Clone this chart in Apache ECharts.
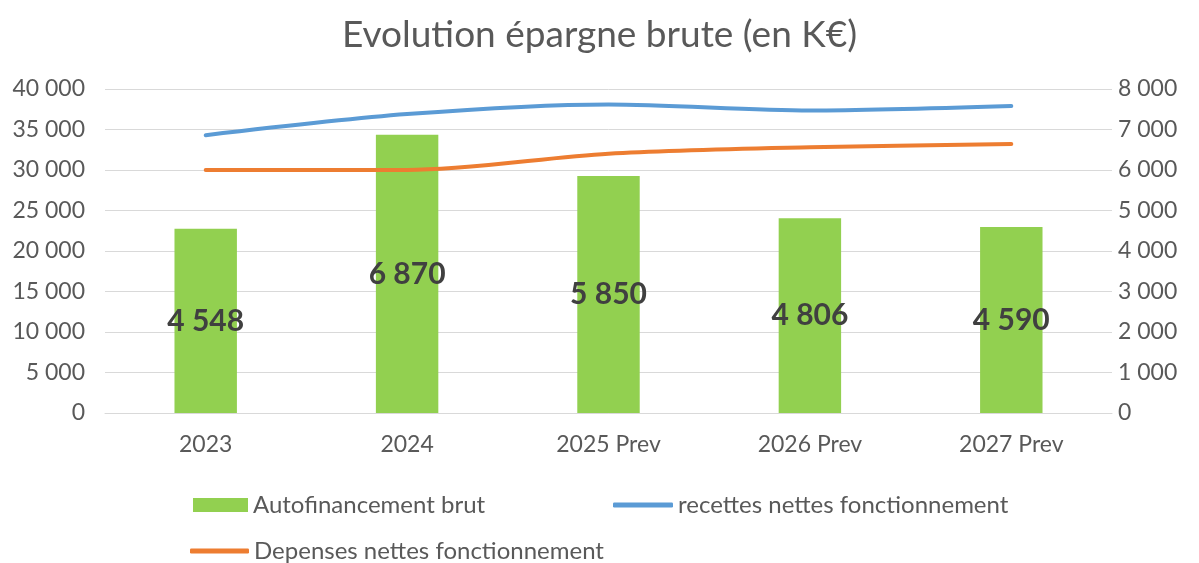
<!DOCTYPE html>
<html>
<head>
<meta charset="utf-8">
<script src="https://cdn.jsdelivr.net/npm/echarts@6/dist/echarts.min.js"></script>
<style>html,body{margin:0;padding:0;background:#fff}#c{width:1199px;height:563px}</style>
</head>
<body>
<div id="c"></div>
<script>
var categories = ['2023', '2024', '2025 Prev', '2026 Prev', '2027 Prev'];
var autofinancement = [4548, 6870, 5850, 4806, 4590];
var recettes = [34300, 36900, 38100, 37350, 37900];
var depenses = [30000, 30000, 32000, 32800, 33200];
var leftTicks = { min: 0, max: 40000, interval: 5000 };
var rightTicks = { min: 0, max: 8000, interval: 1000 };

function fmt(v) { return String(v).replace(/\B(?=(\d{3})+(?!\d))/g, ' '); }

var FONT = 'Lato';
var TXT = '#595959';
var chart = echarts.init(document.getElementById('c'));
chart.setOption({
  animation: false,
  backgroundColor: '#fff',
  textStyle: { fontFamily: FONT },
  title: {
    text: 'Evolution épargne brute (en K€)',
    left: 'center', top: 12,
    textStyle: { fontFamily: FONT, fontSize: 37, fontWeight: 'normal', color: TXT }
  },
  legend: [
    { data: ['Autofinancement brut'], left: 188, top: 488, itemWidth: 55, itemHeight: 14, icon: 'rect',
      textStyle: { fontFamily: FONT, fontSize: 24, color: TXT } },
    { data: ['recettes nettes fonctionnement'], left: 608, top: 488, itemWidth: 60, itemHeight: 5, icon: 'roundRect',
      textStyle: { fontFamily: FONT, fontSize: 24, color: TXT } },
    { data: ['Depenses nettes fonctionnement'], left: 185, top: 534, itemWidth: 59, itemHeight: 5, icon: 'roundRect',
      textStyle: { fontFamily: FONT, fontSize: 24, color: TXT } }
  ],
  grid: { left: 105, right: 87, top: 89, bottom: 150 },
  xAxis: {
    type: 'category', data: categories,
    axisLine: { show: true, lineStyle: { color: '#D9D9D9', width: 1 } },
    axisTick: { show: false },
    axisLabel: { color: TXT, fontSize: 23, fontFamily: FONT, margin: 20 }
  },
  yAxis: [
    { type: 'value', min: leftTicks.min, max: leftTicks.max, interval: leftTicks.interval, position: 'left',
      axisLine: { show: false }, axisTick: { show: false },
      splitLine: { lineStyle: { color: '#D9D9D9', width: 1 } },
      axisLabel: { color: TXT, fontSize: 23, fontFamily: FONT, margin: 20, formatter: fmt } },
    { type: 'value', min: rightTicks.min, max: rightTicks.max, interval: rightTicks.interval, position: 'right',
      axisLine: { show: false }, axisTick: { show: false }, splitLine: { show: false },
      axisLabel: { color: TXT, fontSize: 23, fontFamily: FONT, margin: 6, formatter: fmt } }
  ],
  series: [
    { name: 'Autofinancement brut', type: 'bar', yAxisIndex: 1, data: autofinancement, barWidth: '31%',
      itemStyle: { color: '#92D050' },
      label: { show: true, position: 'inside', formatter: function (p) { return fmt(p.value); },
        color: '#404040', fontSize: 30, fontWeight: 'bold', fontFamily: FONT } },
    { name: 'recettes nettes fonctionnement', type: 'line', yAxisIndex: 0, data: recettes, smooth: 0.3,
      symbol: 'none', lineStyle: { color: '#5B9BD5', width: 4, cap: 'round' }, itemStyle: { color: '#5B9BD5' } },
    { name: 'Depenses nettes fonctionnement', type: 'line', yAxisIndex: 0, data: depenses, smooth: 0.3,
      symbol: 'none', lineStyle: { color: '#ED7D31', width: 4, cap: 'round' }, itemStyle: { color: '#ED7D31' } }
  ]
});
</script>
</body>
</html>
